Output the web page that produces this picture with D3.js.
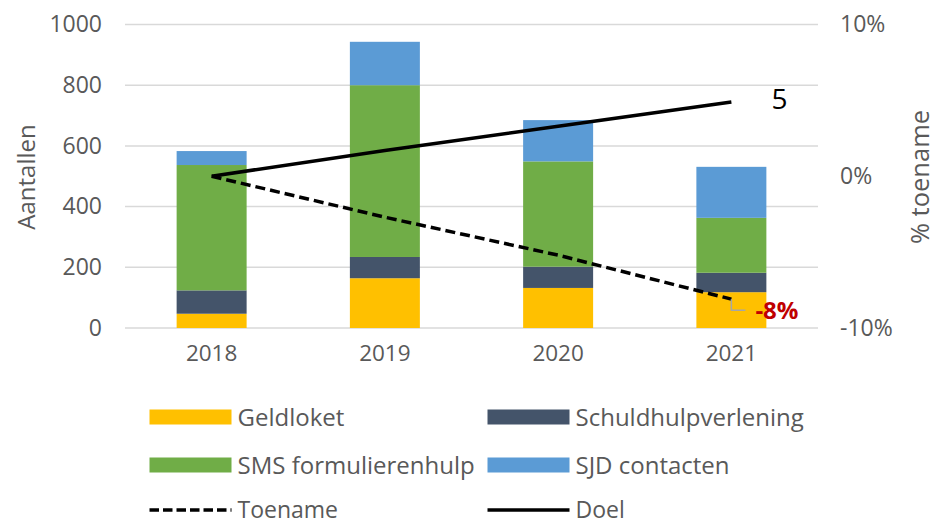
<!DOCTYPE html>
<html lang="nl">
<head>
<meta charset="UTF-8">
<title>Aantallen en toename</title>
<script src="https://d3js.org/d3.v7.min.js"></script>
<style>
    body { margin: 0; background: #fff; }
    svg text { font-family: "Open Sans", "Noto Sans", sans-serif; fill: #595959; }
</style>
</head>
<body>
<svg width="937" height="525"></svg>
<script>
    // data
    const years = ["2018", "2019", "2020", "2021"];
    const seriesNames = ["Geldloket", "Schuldhulpverlening", "SMS formulierenhulp", "SJD contacten"];
    const seriesColors = ["#FFC000", "#44546A", "#70AD47", "#5B9BD5"];
    const geldloket = [47, 164, 132, 118];
    const schuldhulp = [77, 70, 70, 64];
    const smsHulp = [413, 566, 347, 181];
    const sjdContacten = [46, 143, 136, 168];
    const toename = [0, -2.7, -5.2, -8.1];   // % toename (dashed)
    const doel = [0, 1.7, 3.3, 4.9];         // % doel (solid)
    const leftTicks = [0, 200, 400, 600, 800, 1000];
    const rightTicks = [-10, 0, 10];

    const svg = d3.select("svg");

    const x = d3.scaleBand().domain(years).range([125, 818])
        .paddingInner(0.596).paddingOuter(0.298);
    const y = d3.scaleLinear().domain([0, 1000]).range([328, 24.5]);
    const y2 = d3.scaleLinear().domain([-10, 10]).range([328, 24.5]);

    // gridlines
    svg.append("g").selectAll("line").data(leftTicks).join("line")
        .attr("x1", 125).attr("x2", 818)
        .attr("y1", d => y(d)).attr("y2", d => y(d))
        .attr("stroke", "#d9d9d9").attr("stroke-width", 1.5);

    // left axis
    const yAxis = svg.append("g").attr("transform", "translate(102,0)")
        .call(d3.axisLeft(y).tickValues(leftTicks).tickSize(0).tickPadding(0)
            .tickFormat(d3.format("d")));
    yAxis.select(".domain").remove();
    yAxis.selectAll("text").attr("font-size", 23).attr("fill", "#595959")
        .attr("font-family", "Open Sans");

    // right axis
    const y2Axis = svg.append("g").attr("transform", "translate(840,0)")
        .call(d3.axisRight(y2).tickValues(rightTicks).tickSize(0).tickPadding(0)
            .tickFormat(d => d + "%"));
    y2Axis.select(".domain").remove();
    y2Axis.selectAll("text").attr("font-size", 23).attr("fill", "#595959")
        .attr("font-family", "Open Sans");

    // x axis
    const xAxis = svg.append("g").attr("transform", "translate(0,345)")
        .call(d3.axisBottom(x).tickSize(0).tickPadding(0));
    xAxis.select(".domain").remove();
    xAxis.selectAll("text").attr("font-size", 22.5).attr("fill", "#595959")
        .attr("font-family", "Open Sans");

    // axis titles
    svg.append("text").attr("transform", "translate(35,177) rotate(-90)")
        .attr("text-anchor", "middle").attr("font-size", 24).text("Aantallen");
    svg.append("text").attr("transform", "translate(929,177) rotate(-90)")
        .attr("text-anchor", "middle").attr("font-size", 25.5).text("% toename");

    // stacked bars
    const rows = years.map((yr, i) => ({
        year: yr,
        "Geldloket": geldloket[i],
        "Schuldhulpverlening": schuldhulp[i],
        "SMS formulierenhulp": smsHulp[i],
        "SJD contacten": sjdContacten[i]
    }));
    const stacked = d3.stack().keys(seriesNames)(rows);
    const color = d3.scaleOrdinal().domain(seriesNames).range(seriesColors);

    svg.append("g").selectAll("g").data(stacked).join("g")
        .attr("fill", d => color(d.key))
        .selectAll("rect").data(d => d).join("rect")
        .attr("x", d => x(d.data.year))
        .attr("width", x.bandwidth())
        .attr("y", d => y(d[1]))
        .attr("height", d => y(d[0]) - y(d[1]));

    // lines
    const cx = yr => x(yr) + x.bandwidth() / 2;
    const line = d3.line().x(d => cx(d.year)).y(d => y2(d.v));
    const doelData = years.map((yr, i) => ({ year: yr, v: doel[i] }));
    const toenameData = years.map((yr, i) => ({ year: yr, v: toename[i] }));

    svg.append("path").datum(doelData)
        .attr("fill", "none").attr("stroke", "#000").attr("stroke-width", 3.5)
        .attr("d", line);
    svg.append("path").datum(toenameData)
        .attr("fill", "none").attr("stroke", "#000").attr("stroke-width", 3.5)
        .attr("stroke-dasharray", "10,5")
        .attr("d", line);

    // data labels
    const last = years.length - 1;
    svg.append("text")
        .attr("x", cx(years[last]) + 40).attr("y", y2(doel[last]) + 7.5)
        .attr("font-size", 28).style("fill", "#000")
        .text(Math.round(doel[last]));

    const lx = cx(years[last]), ly = y2(toename[last]);
    svg.append("path")
        .attr("d", `M${lx},${ly} V${ly + 11} H${lx + 14}`)
        .attr("fill", "none").attr("stroke", "#a6a6a6").attr("stroke-width", 1.5);
    svg.append("text")
        .attr("x", lx + 24).attr("y", ly + 20)
        .attr("font-size", 24).attr("font-weight", "bold").style("fill", "#C00000")
        .text("-" + Math.round(-toename[last]) + "%");

    // legend
    const legendItems = [
        { name: seriesNames[0], type: "rect", color: seriesColors[0] },
        { name: seriesNames[1], type: "rect", color: seriesColors[1] },
        { name: seriesNames[2], type: "rect", color: seriesColors[2] },
        { name: seriesNames[3], type: "rect", color: seriesColors[3] },
        { name: "Toename", type: "dash" },
        { name: "Doel", type: "line" }
    ];
    const colX = [149.5, 487.5];
    const rowY = [417, 465, 510];
    const lg = svg.append("g").selectAll("g").data(legendItems).join("g")
        .attr("transform", (d, i) => `translate(${colX[i % 2]},${rowY[Math.floor(i / 2)]})`);
    lg.filter(d => d.type === "rect").append("rect")
        .attr("x", 0).attr("y", -7.5).attr("width", 82).attr("height", 15)
        .attr("fill", d => d.color);
    lg.filter(d => d.type !== "rect").append("line")
        .attr("x1", 0).attr("x2", 82).attr("y1", 0).attr("y2", 0)
        .attr("stroke", "#000").attr("stroke-width", 3.5)
        .attr("stroke-dasharray", d => d.type === "dash" ? "9.5,4" : null);
    lg.append("text")
        .attr("x", 88).attr("y", d => d.type === "rect" ? 8.5 : 7.5)
        .attr("font-size", d => d.type === "rect" ? 24 : 23)
        .text(d => d.name);
</script>
</body>
</html>
